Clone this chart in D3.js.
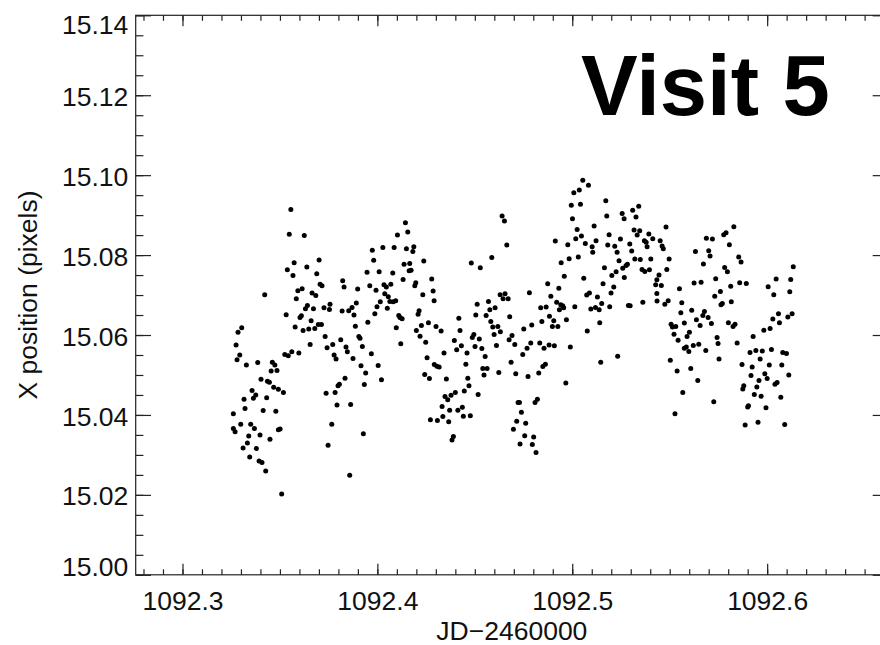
<!DOCTYPE html>
<html><head><meta charset="utf-8">
<script src="https://cdn.jsdelivr.net/npm/d3@7"></script>
<style>html,body{margin:0;padding:0;background:#fff;overflow:hidden}svg{display:block}</style>
</head><body><svg id="c" width="880" height="645"></svg>
<script>
// Time (JD - 2460000)
const jd = [
1092.3556,1092.3548,1092.3625,1092.3701,1092.3573,1092.3538,1092.3638,1092.3567,1092.3689,1092.3947,
1092.3822,1092.3829,1092.3899,1092.3706,1092.3716,1092.3592,1092.3614,1092.3584,1092.3665,1092.3684,
1092.3422,1092.3532,1092.3603,1092.3610,1092.3641,1092.3631,1092.3672,1092.3726,1092.3757,1092.3754,
1092.3819,1092.3853,1092.3870,1092.3892,1092.3880,1092.3951,1092.3660,1092.3578,1092.3619,1092.3648,
1092.3679,1092.3697,1092.3713,1092.3887,1092.3285,1092.3304,
1092.3275,1092.3294,1092.3280,1092.3328,1092.3386,1092.3461,1092.3474,1092.3455,1092.3485,1092.3525,
1092.3543,1092.3561,1092.3597,1092.3655,1092.3732,1092.3742,1092.3771,1092.3812,1092.3839,1092.3846,
1092.3905,1092.3911,1092.3923,1092.3778,1092.3788,1092.3875,1092.3916,1092.3940,1092.3834,1092.3805,
1092.3798,1092.3783,1092.3737,1092.3933,1092.3793,1092.3863,1092.3403,1092.3436,1092.3446,1092.3468,
1092.3492,1092.3518,1092.3357,1092.3376,1092.3364,1092.3432,1092.3316,1092.3321,1092.3414,1092.3479,
1092.3261,1092.3299,1092.3350,1092.3369,1092.3261,1092.3270,1092.3501,1092.3492,1092.3340,1092.3398,
1092.3449,1092.3333,1092.3311,1092.3379,1092.3345,1092.3393,1092.3408,1092.3427,1092.3766,1092.3928,
1092.3747,1092.3858,1092.3509,
1092.4144,1092.4103,1092.4156,1092.3974,1092.4028,1092.4086,1092.4149,1092.4187,1092.4182,1092.3981,
1092.4137,1092.4166,1092.4238,1092.4009,1092.4079,1092.4163,1092.4173,1092.4132,1092.4197,1092.4192,
1092.3961,1092.4034,1092.4046,1092.4069,1092.3993,1092.4038,1092.4056,1092.4064,1092.4081,1092.4094,
1092.4015,1092.3998,1092.4051,1092.3987,1092.4110,1092.4116,1092.4127,1092.4209,1092.4214,1092.4279,
1092.4286,1092.4233,1092.4291,1092.4097,1092.4200,1092.4226,1092.4262,1092.4301,1092.4327,1092.4482,
1092.4528,1092.4587,1092.4640,1092.4652,1092.4664,1092.4630,1092.4655,1092.4645,1092.4671,1092.4570,
1092.4604,1092.4512,1092.4577,1092.4558,1092.4505,1092.4679,1092.4418,1092.4582,1092.4424,1092.4592,
1092.4618,1092.4631,1092.4599,
1092.4219,1092.4248,1092.4120,1092.3969,1092.4004,1092.4021,1092.4255,1092.4292,1092.4305,1092.4317,
1092.4243,1092.4267,1092.4354,1092.4342,1092.4395,1092.4407,1092.4431,1092.4460,1092.4487,1092.4495,
1092.4523,1092.4501,1092.4536,1092.4454,1092.4553,1092.4541,1092.4563,1092.4547,1092.4676,1092.4691,
1092.4611,1092.4686,1092.4623,1092.4464,1092.4470,1092.4446,1092.4400,1092.4378,1092.4347,1092.4361,
1092.4517,1092.4332,1092.4371,1092.4413,1092.4436,1092.4272,1092.4308,1092.4336,1092.4366,1092.4441,
1092.4477,1092.4390,1092.4383,
1092.5054,1092.5083,1092.5008,1092.5036,1092.4995,1092.5042,1092.5001,1092.5172,1092.5177,1092.5256,
1092.5266,1092.5310,1092.5341,1092.5327,1092.5025,1092.5047,1092.5112,1092.4913,1092.4977,1092.5018,
1092.5067,1092.5102,1092.5105,1092.5122,1092.5189,1092.5182,1092.5218,1092.5247,1092.5230,1092.5295,
1092.5305,1092.5317,1092.5346,1092.5333,1092.5393,1092.5370,1092.5379,1092.5413,1092.5384,1092.5321,
1092.5349,1092.5403,1092.4943,1092.4984,1092.5031,1092.5240,1092.5259,1092.5276,1092.5283,1092.5165,
1092.5203,1092.5225,1092.5267,1092.5358,1092.5372,1092.5396,1092.4959,1092.5059,1092.5158,1092.5213,
1092.5199,1092.5434,1092.5428,1092.5434,1092.5435,1092.4874,1092.4931,1092.4780,1092.4890,1092.5074,
1092.5088,1092.5129,1092.5151,1092.5192,1092.5288,1092.5297,1092.5362,1092.4920,1092.4941,1092.4951,
1092.4956,1092.4934,1092.4838,1092.4866,1092.5013,1092.5095,1092.5119,1092.5138,1092.4883,1092.4905,
1092.4844,1092.4970,1092.4898,1092.4926,1092.4792,1092.4751,1092.5141,1092.5077,
1092.4705,1092.4787,1092.4768,1092.4833,1092.4855,1092.4881,1092.4908,1092.4990,1092.4746,1092.4710,
1092.4773,1092.4828,1092.4849,1092.4862,1092.4967,1092.5146,1092.5233,1092.4698,1092.4722,1092.4729,
1092.4809,1092.4821,1092.4739,1092.4715,1092.4761,1092.4756,1092.4802,1092.4732,1092.4795,1092.4814,
1092.5481,1092.5451,1092.5461,1092.5467,1092.5497,1092.5485,1092.5445,1092.5457,1092.5475,1092.5492,
1092.5550,1092.5562,1092.5557,1092.5613,1092.5637,1092.5656,1092.5670,1092.5678,1092.5697,1092.5714,
1092.5575,1092.5507,1092.5514,1092.5531,1092.5522,1092.5601,1092.5632,1092.5700,1092.5707,1092.5673,
1092.5688,1092.5719,1092.5777,1092.5789,1092.5829,1092.5806,1092.5854,1092.5866,1092.5782,1092.5796,
1092.5736,1092.5625,1092.5661,1092.5760,1092.5731,1092.5770,1092.5763,1092.5816,1092.5813,1092.5859,
1092.5893,1092.5801,1092.5835,1092.5825,1092.5983,1092.6015,1092.6029,1092.6058,1092.6063,1092.6106,
1092.6128,1092.6005,1092.6034,1092.6046,1092.6116,1092.6121,1092.6134,
1092.5543,1092.5589,1092.5575,1092.5585,1092.5598,1092.5621,1092.5649,1092.5685,1092.5743,1092.5748,
1092.5846,1092.5928,1092.5503,1092.5538,1092.5608,1092.5644,1092.5567,1092.5527,1092.5726,1092.5753,
1092.5871,1092.5912,1092.5942,1092.5975,1092.6022,1092.6080,1092.6099,1092.5964,1092.5923,1092.6011,
1092.6075,1092.6111,1092.5917,1092.5988,1092.6000,1092.5958,1092.6040,1092.6051,1092.5880,1092.5875,
1092.5947,1092.5934,1092.5969,1092.6070,1092.5904,1092.5900,1092.5994,1092.5887,1092.5953,1092.6090
];
// X position (pixels)
const xpos = [
15.0914,15.0852,15.0849,15.0788,15.0781,15.0763,15.0770,15.0749,15.0753,15.0757,
15.0736,15.0720,15.0715,15.0727,15.0723,15.0711,15.0716,15.0691,15.0705,15.0699,
15.0701,15.0651,15.0644,15.0648,15.0674,15.0666,15.0666,15.0668,15.0677,15.0664,
15.0660,15.0661,15.0669,15.0680,15.0650,15.0632,15.0636,15.0620,15.0611,15.0615,
15.0616,15.0626,15.0626,15.0622,15.0607,15.0618,
15.0575,15.0550,15.0538,15.0525,15.0531,15.0532,15.0525,15.0510,15.0511,15.0551,
15.0548,15.0558,15.0555,15.0576,15.0596,15.0568,15.0576,15.0588,15.0570,15.0558,
15.0596,15.0592,15.0571,15.0550,15.0540,15.0541,15.0523,15.0505,15.0492,15.0477,
15.0473,15.0456,15.0454,15.0476,15.0425,15.0426,15.0489,15.0484,15.0482,15.0469,
15.0464,15.0456,15.0461,15.0450,15.0442,15.0443,15.0439,15.0416,15.0411,15.0409,
15.0403,15.0377,15.0377,15.0366,15.0366,15.0358,15.0365,15.0363,15.0347,15.0350,
15.0339,15.0330,15.0317,15.0316,15.0295,15.0285,15.0281,15.0260,15.0377,15.0353,
15.0324,15.0249,15.0202,
15.0881,15.0850,15.0858,15.0812,15.0819,15.0819,15.0816,15.0821,15.0809,15.0787,
15.0777,15.0779,15.0785,15.0758,15.0755,15.0761,15.0762,15.0739,15.0731,15.0723,
15.0723,15.0726,15.0720,15.0727,15.0712,15.0703,15.0696,15.0684,15.0683,15.0686,
15.0683,15.0671,15.0667,15.0653,15.0649,15.0644,15.0641,15.0652,15.0661,15.0740,
15.0710,15.0701,15.0686,15.0618,15.0611,15.0624,15.0631,15.0621,15.0610,15.0780,
15.0768,15.0794,15.0898,15.0885,15.0825,15.0701,15.0703,15.0691,15.0691,15.0684,
15.0668,15.0677,15.0663,15.0649,15.0650,15.0646,15.0642,15.0634,15.0611,15.0620,
15.0621,15.0608,15.0601,
15.0597,15.0582,15.0578,15.0553,15.0524,15.0488,15.0543,15.0526,15.0522,15.0520,
15.0501,15.0491,15.0490,15.0555,15.0586,15.0563,15.0573,15.0555,15.0594,15.0601,
15.0590,15.0571,15.0566,15.0527,15.0546,15.0516,15.0516,15.0500,15.0588,15.0599,
15.0574,15.0532,15.0506,15.0492,15.0473,15.0460,15.0456,15.0449,15.0446,15.0438,
15.0451,15.0421,15.0412,15.0412,15.0419,15.0388,15.0386,15.0396,15.0383,15.0397,
15.0398,15.0346,15.0337,
15.0987,15.0975,15.0956,15.0963,15.0925,15.0927,15.0891,15.0936,15.0898,15.0904,
15.0891,15.0912,15.0922,15.0895,15.0864,15.0848,15.0873,15.0835,15.0826,15.0841,
15.0829,15.0821,15.0807,15.0836,15.0851,15.0825,15.0822,15.0840,15.0807,15.0828,
15.0810,15.0863,15.0861,15.0850,15.0853,15.0836,15.0832,15.0841,15.0821,15.0790,
15.0789,15.0790,15.0781,15.0791,15.0795,15.0786,15.0767,15.0774,15.0777,15.0768,
15.0749,15.0758,15.0744,15.0764,15.0759,15.0763,15.0747,15.0742,15.0728,15.0720,
15.0705,15.0738,15.0726,15.0704,15.0685,15.0728,15.0717,15.0706,15.0697,15.0700,
15.0705,15.0695,15.0679,15.0671,15.0674,15.0673,15.0682,15.0682,15.0676,15.0673,
15.0668,15.0663,15.0668,15.0670,15.0671,15.0665,15.0669,15.0663,15.0647,15.0636,
15.0634,15.0638,15.0621,15.0621,15.0625,15.0615,15.0631,15.0610,
15.0576,15.0580,15.0567,15.0580,15.0567,15.0575,15.0573,15.0570,15.0551,15.0503,
15.0496,15.0505,15.0521,15.0527,15.0480,15.0532,15.0547,15.0364,15.0431,15.0431,
15.0431,15.0439,15.0407,15.0384,15.0379,15.0348,15.0345,15.0327,15.0326,15.0306,
15.0870,15.0836,15.0823,15.0816,15.0790,15.0764,15.0750,15.0724,15.0677,15.0686,
15.0716,15.0681,15.0656,15.0662,15.0638,15.0624,15.0649,15.0659,15.0644,15.0629,
15.0630,15.0627,15.0620,15.0621,15.0602,15.0607,15.0809,15.0811,15.0798,15.0778,
15.0842,15.0840,15.0851,15.0856,15.0871,15.0826,15.0795,15.0783,15.0769,15.0758,
15.0741,15.0730,15.0732,15.0709,15.0697,15.0679,15.0676,15.0683,15.0722,15.0731,
15.0729,15.0631,15.0627,15.0621,15.0612,15.0616,15.0640,15.0653,15.0631,15.0645,
15.0653,15.0721,15.0701,15.0740,15.0708,15.0739,15.0771,
15.0587,15.0596,15.0567,15.0570,15.0559,15.0574,15.0577,15.0561,15.0594,15.0579,
15.0580,15.0596,15.0537,15.0510,15.0516,15.0486,15.0456,15.0403,15.0433,15.0540,
15.0526,15.0556,15.0561,15.0560,15.0564,15.0556,15.0554,15.0540,15.0520,15.0525,
15.0525,15.0500,15.0499,15.0503,15.0491,15.0486,15.0477,15.0481,15.0473,15.0465,
15.0470,15.0451,15.0447,15.0444,15.0423,15.0420,15.0418,15.0375,15.0382,15.0376
];
const xTickValues = [1092.3, 1092.4, 1092.5, 1092.6];
const xTickLabels = ["1092.3", "1092.4", "1092.5", "1092.6"];
const yTickValues = [15.00, 15.02, 15.04, 15.06, 15.08, 15.10, 15.12, 15.14];
const yTickLabels = ["15.00", "15.02", "15.04", "15.06", "15.08", "15.10", "15.12", "15.14"];
const xTitle = "JD\u22122460000";
const yTitle = "X position (pixels)";
const panelLabel = "Visit 5";

const W = 880, H = 645;
const L = 135.7, R = 888, T = 15.3, B = 574.8;
const x = d3.scaleLinear().domain([1092.276, 1092.662]).range([L, R]);
const y = d3.scaleLinear().domain([15.00, 15.14]).range([B, T]);
const xMinor = d3.range(28, 67).map(i => 1092 + i / 100);
const yMinor = d3.range(0, 29).map(i => 15 + i * 0.005);

const svg = d3.select("#c");
svg.append("rect").attr("width", W).attr("height", H).attr("fill", "#fff");
const font = "'Liberation Sans', Arial, Helvetica, sans-serif";
const axColor = "#222";
const fs = 26.5;

function style(g) {
  g.select(".domain").remove();
  g.selectAll("line").attr("stroke", axColor).attr("stroke-width", 1.2);
  g.selectAll("text").attr("fill", "#111").attr("font-family", font).attr("font-size", fs);
}

// minor ticks
svg.append("g").attr("transform", `translate(0,${B})`)
  .call(d3.axisBottom(x).tickValues(xMinor).tickSize(-5.5).tickFormat("")).call(style);
svg.append("g").attr("transform", `translate(0,${T})`)
  .call(d3.axisTop(x).tickValues(xMinor).tickSize(-5.5).tickFormat("")).call(style);
svg.append("g").attr("transform", `translate(${L},0)`)
  .call(d3.axisLeft(y).tickValues(yMinor).tickSize(-7.7).tickFormat("")).call(style);
svg.append("g").attr("transform", `translate(${R},0)`)
  .call(d3.axisRight(y).tickValues(yMinor).tickSize(-7.7).tickFormat("")).call(style);

// major ticks
svg.append("g").attr("transform", `translate(0,${B})`)
  .call(d3.axisBottom(x).tickValues(xTickValues).tickSize(-11).tickPadding(16.5)
    .tickFormat((d, i) => xTickLabels[i])).call(style);
svg.append("g").attr("transform", `translate(0,${T})`)
  .call(d3.axisTop(x).tickValues(xTickValues).tickSize(-11).tickFormat("")).call(style);
const gl = svg.append("g").attr("transform", `translate(${L},0)`)
  .call(d3.axisLeft(y).tickValues(yTickValues).tickSize(-15.3).tickPadding(7.4)
    .tickFormat((d, i) => yTickLabels[i])).call(style);
gl.selectAll("text").attr("dy", (d, i) => i === 0 ? "0.03em" : (i === yTickValues.length - 1 ? "0.69em" : "0.38em"));
svg.append("g").attr("transform", `translate(${R},0)`)
  .call(d3.axisRight(y).tickValues(yTickValues).tickSize(-15.3).tickFormat("")).call(style);

// frame
svg.append("rect").attr("x", L).attr("y", T).attr("width", R - L).attr("height", B - T)
  .attr("fill", "none").attr("stroke", axColor).attr("stroke-width", 1.2);

// points
svg.append("g").selectAll("circle").data(jd).join("circle")
  .attr("cx", d => x(d)).attr("cy", (d, i) => y(xpos[i])).attr("r", 2.5).attr("fill", "#000");

// titles
svg.append("text").attr("x", (L + R) / 2).attr("y", 640).attr("text-anchor", "middle")
  .attr("font-family", font).attr("font-size", fs).attr("fill", "#111").text(xTitle);
svg.append("text").attr("transform", `translate(36.7,${(T + B) / 2}) rotate(-90)`).attr("text-anchor", "middle")
  .attr("font-family", font).attr("font-size", fs).attr("fill", "#111").text(yTitle);
svg.append("text").attr("x", 581).attr("y", 115).attr("font-family", font).attr("font-weight", "bold")
  .attr("font-size", 85).attr("fill", "#000").text(panelLabel);
</script></body></html>
